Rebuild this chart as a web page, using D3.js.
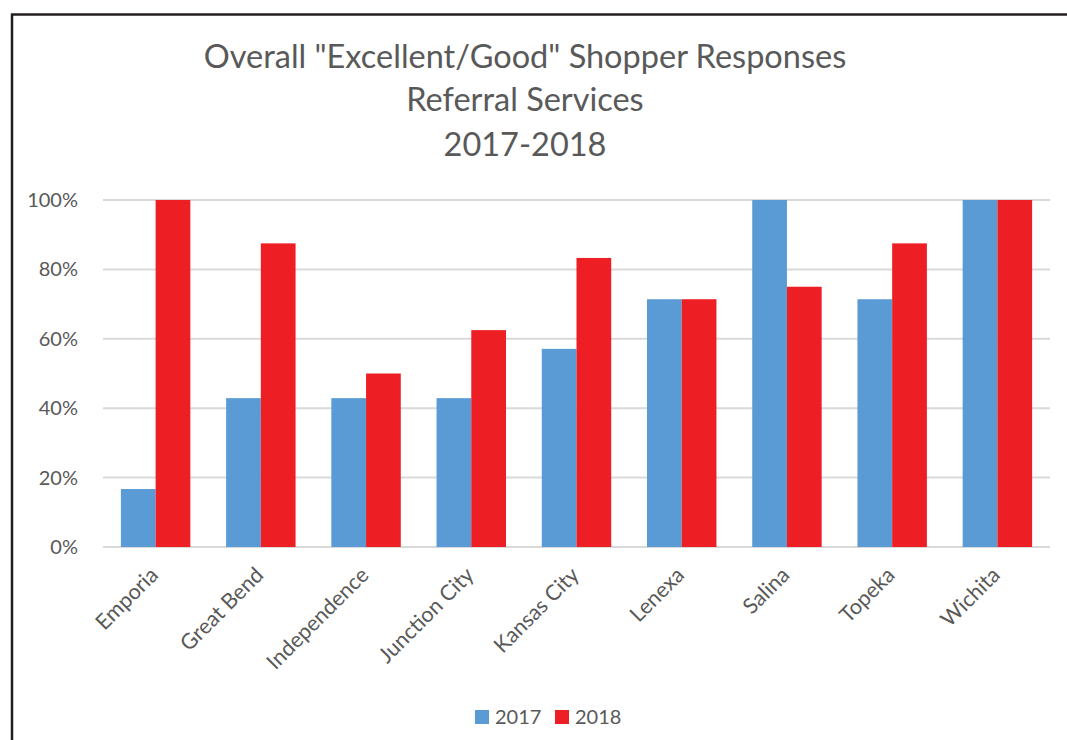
<!DOCTYPE html>
<html>
<head>
<meta charset="utf-8">
<script src="https://cdn.jsdelivr.net/npm/d3@7"></script>
<style>
  html, body { margin: 0; padding: 0; background: #fff; }
  svg { display: block; }
  text { font-family: "Lato", "Open Sans", sans-serif; fill: #595959; }
</style>
</head>
<body>
<svg id="chart" width="1067" height="740"></svg>
<script>
// Referral services: share of "Excellent/Good" shopper responses by office
const categories = ["Emporia", "Great Bend", "Independence", "Junction City", "Kansas City",
                    "Lenexa", "Salina", "Topeka", "Wichita"];
const seriesNames = ["2017", "2018"];
const values2017 = [0.167, 0.429, 0.429, 0.429, 0.571, 0.714, 1.0, 0.714, 1.0];
const values2018 = [1.0, 0.875, 0.5, 0.625, 0.833, 0.714, 0.75, 0.875, 1.0];
const yTicks = [0, 0.2, 0.4, 0.6, 0.8, 1.0];
const titleLines = ['Overall "Excellent/Good" Shopper Responses', "Referral Services", "2017-2018"];
const colors = ["#5b9bd5", "#ee1f24"];

const svg = d3.select("#chart");
const W = 1067, H = 740;

// frame lines along the left and top edges
svg.append("line").attr("x1", 12).attr("x2", 12).attr("y1", 14).attr("y2", H)
  .attr("stroke", "#231f20").attr("stroke-width", 2.5);
svg.append("line").attr("x1", 11).attr("x2", W).attr("y1", 14.5).attr("y2", 14.5)
  .attr("stroke", "#231f20").attr("stroke-width", 2.5);

const plot = { left: 103, right: 1050, top: 200, bottom: 547 };

const x0 = d3.scaleBand().domain(categories).range([plot.left, plot.right])
  .paddingInner(0.34).paddingOuter(0.17);
const x1 = d3.scaleBand().domain(seriesNames).range([0, x0.bandwidth()]);
const y = d3.scaleLinear().domain([0, 1]).range([plot.bottom, plot.top]);

// gridlines
svg.append("g").selectAll("line").data(yTicks).join("line")
  .attr("x1", plot.left).attr("x2", plot.right)
  .attr("y1", d => y(d)).attr("y2", d => y(d))
  .attr("stroke", "#d9d9d9").attr("stroke-width", 2);

// y axis labels
const yAxis = d3.axisLeft(y).tickValues(yTicks).tickFormat(d3.format(".0%")).tickSize(0).tickPadding(25);
const gy = svg.append("g").attr("transform", `translate(${plot.left},0)`).call(yAxis);
gy.select(".domain").remove();
gy.selectAll("text").attr("font-size", 20).attr("fill", "#595959")
  .style("font-family", "Lato, 'Open Sans', sans-serif");

// bars
const rows = categories.map((c, i) => ({ c, v: [values2017[i], values2018[i]] }));
const groups = svg.append("g").selectAll("g").data(rows).join("g")
  .attr("transform", d => `translate(${x0(d.c)},0)`);
groups.selectAll("rect").data(d => d.v.map((v, k) => ({ v, k }))).join("rect")
  .attr("x", d => x1(seriesNames[d.k]))
  .attr("width", x1.bandwidth())
  .attr("y", d => y(d.v))
  .attr("height", d => y(0) - y(d.v))
  .attr("fill", d => colors[d.k]);

// category axis with rotated labels
const xAxis = d3.axisBottom(x0).tickSize(0).tickPadding(14);
const gx = svg.append("g").attr("transform", `translate(0,${plot.bottom})`).call(xAxis);
gx.select(".domain").remove();
gx.selectAll("text")
  .attr("font-size", 21.5).attr("fill", "#595959")
  .style("font-family", "Lato, 'Open Sans', sans-serif")
  .attr("text-anchor", "end")
  .attr("dy", "0.35em")
  .attr("transform", "rotate(-45)")
  .attr("x", -18).attr("y", 16);

// title
const title = svg.append("text").attr("text-anchor", "middle").attr("font-size", 32.5);
title.selectAll("tspan").data(titleLines).join("tspan")
  .attr("x", 525)
  .attr("y", (d, i) => [68, 111, 156][i])
  .text(d => d);

// legend
const legend = svg.append("g");
const legendX = [475, 555];
seriesNames.forEach((s, i) => {
  legend.append("rect").attr("x", legendX[i]).attr("y", 710).attr("width", 14).attr("height", 14)
    .attr("fill", colors[i]);
  legend.append("text").attr("x", legendX[i] + 20).attr("y", 724)
    .attr("font-size", 20).text(s);
});
</script>
</body>
</html>
